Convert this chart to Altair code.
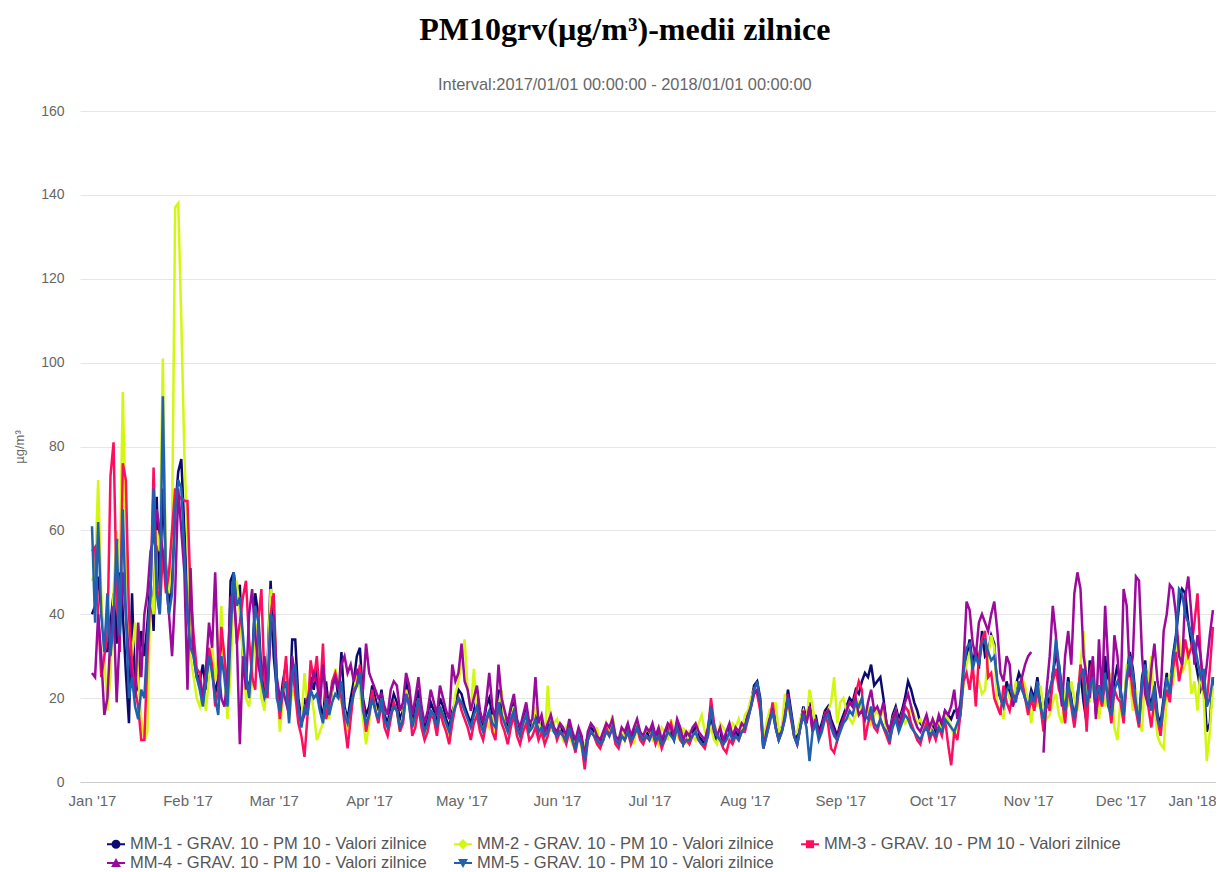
import altair as alt
import pandas as pd

series_names = [
    "MM-1 - GRAV. 10 - PM 10 - Valori zilnice",
    "MM-2 - GRAV. 10 - PM 10 - Valori zilnice",
    "MM-3 - GRAV. 10 - PM 10 - Valori zilnice",
    "MM-4 - GRAV. 10 - PM 10 - Valori zilnice",
    "MM-5 - GRAV. 10 - PM 10 - Valori zilnice",
]
series_colors = ["#0b0b6f", "#d4f70f", "#ff0d5f", "#9b0a9b", "#2160b0"]

mm1 = (
    [40,42,49,41,33,31,38,45,33,58,40,26,14,45,21,23,36,30,38,48,36,68,46,70,52,41,48,65,74,77,60]
    + [45,34,31,26,24,28,22,30,27,21,25,35,28,22,48,50,44,47,30,25,22,28,45,40,26,21,28,48]
    + [30,22,18,24,28,16,34,34,20,15,20,18,25,22,27,19,15,24,17,22,26,20,31,18,15,20,24,30,32,20,16]
    + [18,23,20,17,22,16,14,18,21,19,15,17,24,20,14,18,22,16,13,15,19,17,14,20,18,15,13,17,19,22]
    + [21,18,16,14,17,20,15,13,18,20,16,14,22,17,15,13,16,19,14,12,15,17,13,14,16,12,14,11,13,15,12]
    + [11,13,12,10,14,11,9,12,10,8,11,13,12,10,9,11,13,12,14,10,9,12,11,13,10,12,14,11,10,12]
    + [11,13,10,12,9,11,13,12,10,14,12,9,11,10,12,13,11,10,9,12,15,11,10,12,9,11,13,10,12,11,13]
    + [14,16,19,23,24,20,9,12,15,18,14,11,13,16,22,17,12,10,14,18,15,19,13,16,12,14,17,18,15,13,11]
    + [14,16,18,20,19,22,21,24,26,25,28,23,24,25,20,14,12,16,18,15,17,20,24,22,19,17,14,13,15,12]
    + [14,12,15,13,17,16,15,17,17,18,25,30,34,28,32,27,36,30,31,35,33,22,20,18,24,21,19,23,26,24,20]
    + [18,22,20,25,19,16,21,18,26,30,28,22,18,25,20,15,21,26,19,14,29,24,17,23,20,30,22,16,24,28]
    + [22,17,26,31,27,20,15,25,29,21,18,24,16,14,20,26,22,30,35,42,46,45,38,33,30,26,22,24,12,14,25]
)
mm2 = (
    [48,50,72,45,30,17,25,45,60,50,93,60,35,30,38,25,15,10,12,46,40,60,55,101,50,45,60,137,138,110,78]
    + [58,30,25,20,18,22,17,25,33,24,30,42,25,15,26,46,48,40,30,20,18,24,38,35,20,17,26,46]
    + [44,24,12,20,27,15,22,20,17,14,26,18,22,17,10,12,14,20,15,23,27,24,19,17,12,16,21,26,22,15,9]
    + [14,21,18,15,20,14,13,16,18,17,12,16,22,19,13,15,20,14,11,13,17,16,12,18,16,13,11,15,21,24]
    + [28,34,22,17,27,16,14,12,15,13,16,11,18,22,14,12,15,18,13,11,14,16,12,13,18,15,11,10,23,12,14]
    + [15,12,10,13,11,9,10,11,8,9,10,12,11,13,8,10,14,12,16,11,9,13,10,12,11,9,14,12,10,13]
    + [12,10,11,9,13,12,10,15,12,11,10,13,9,12,11,10,14,16,12,11,13,10,9,14,13,12,11,14,13,15,12]
    + [16,17,20,22,21,18,10,14,17,16,19,12,13,21,18,15,11,12,15,17,14,22,18,13,11,12,16,17,19,25,14]
    + [19,20,17,15,14,16,19,17,15,18,14,16,17,15,18,12,11,15,17,13,16,14,15,18,16,14,15,13,16,12]
    + [15,13,14,12,16,15,13,11,14,16,23,28,31,26,25,24,21,22,30,35,32,18,17,15,22,20,18,24,22,25,23]
    + [19,14,20,18,23,17,15,16,19,21,16,14,22,18,24,20,17,28,36,22,19,27,24,15,21,18,24,26,13,10]
    + [20,16,28,25,17,22,14,12,27,24,30,18,11,9,8,20,26,23,30,35,26,28,32,21,24,17,27,20,5,12,23]
)
mm3 = (
    [55,56,40,25,30,35,73,81,45,31,76,72,40,28,22,18,10,10,30,45,75,48,40,55,45,50,60,70,67,68,67]
    + [67,45,35,27,26,20,24,32,28,18,22,37,30,20,42,47,33,38,44,48,34,25,22,38,46,24,20,40]
    + [45,24,15,22,30,18,28,21,14,11,6,16,29,24,30,20,33,15,18,24,26,23,20,14,8,15,22,23,28,19,12]
    + [16,22,17,14,19,13,11,15,19,17,12,14,21,19,11,13,18,13,10,12,16,15,11,17,14,12,9,14,18,20]
    + [17,15,13,10,14,16,12,10,14,17,12,10,19,14,12,9,13,16,11,9,12,14,10,11,13,10,12,9,11,14,13]
    + [10,12,11,9,12,10,7,11,9,3,10,12,11,9,8,10,13,11,13,9,8,11,10,12,9,11,13,10,9,11]
    + [10,12,9,11,8,10,12,14,11,13,10,9,10,9,11,12,10,9,8,11,20,14,11,10,8,7,10,9,11,10,12]
    + [12,15,18,22,21,17,8,11,14,19,13,10,12,16,20,15,11,9,13,17,14,18,12,15,11,13,16,14,8,7,10]
    + [13,15,17,19,18,21,24,22,10,14,16,13,12,15,13,11,9,14,16,13,15,18,17,14,12,10,9,12,14,10]
    + [12,10,13,11,15,9,4,12,10,16,24,26,22,28,18,30,34,36,25,26,20,18,16,23,19,17,21,20,22,24,20]
    + [16,20,17,22,18,12,19,17,24,27,22,20,14,23,18,13,19,28,24,12,26,29,16,21,18,24,20,14,22,20]
    + [19,14,24,28,21,17,13,23,26,18,13,20,15,11,18,22,19,27,31,24,28,34,30,32,38,45,30,22,19,27,37]
)
mm4 = (
    [26,25,40,30,16,20,35,42,19,35,50,40,30,25,20,38,25,40,45,55,58,65,60,55,48,40,30,45,70,60,50]
    + [22,51,30,25,24,20,27,38,32,50,28,20,18,25,44,45,35,9,30,22,40,46,35,28,24,30,22,35]
    + [40,25,20,22,19,16,30,25,18,14,16,20,22,26,24,18,28,20,19,23,25,22,28,30,26,28,24,27,24,22,33]
    + [26,24,22,20,21,18,16,22,24,23,17,19,26,23,16,20,25,18,14,17,22,19,16,23,20,17,15,28,24,26]
    + [33,24,22,17,20,23,17,14,19,26,18,15,28,20,17,14,18,21,15,13,16,19,14,15,25,14,16,12,14,16,13]
    + [12,14,13,11,15,12,10,13,11,6,12,14,13,11,10,12,14,13,15,11,10,13,12,14,11,13,15,12,11,13]
    + [12,14,11,13,10,12,14,13,11,15,13,10,12,11,13,14,12,11,10,13,18,12,11,13,10,12,14,11,13,12,14]
    + [13,16,18,21,22,19,8,12,15,17,13,10,12,15,21,16,11,9,13,17,14,18,12,15,11,13,16,17,14,12,10]
    + [13,15,17,19,18,20,16,17,15,19,22,17,18,16,19,14,12,15,17,13,16,19,21,18,15,13,12,14,16,13]
    + [15,13,16,14,17,16,18,22,15,19,28,43,41,33,30,38,40,38,36,40,43,36,26,24,30,28,18,20,22,25,28]
    + [30,31,None,None,None,7,22,30,42,35,24,18,30,36,28,45,50,46,30,25,20,30,15,34,20,42,28,18,35,30]
    + [20,46,42,25,30,49,48,30,21,18,27,33,24,20,36,40,47,46,40,30,28,44,49,40,28,35,30,22,28,35,41]
)
mm5 = (
    [61,38,62,40,31,45,30,38,58,35,65,40,20,25,18,15,22,20,35,45,70,45,40,92,48,40,45,65,72,70,55]
    + [40,32,30,25,22,18,24,30,26,20,16,30,25,18,35,50,42,44,35,26,20,30,42,38,24,20,22,40]
    + [38,20,17,22,24,14,26,28,18,13,18,16,22,20,21,17,14,20,16,19,21,20,24,16,14,18,21,23,26,17,14]
    + [16,20,17,15,20,15,13,16,18,17,13,15,21,18,13,16,20,15,12,14,17,16,13,18,16,14,12,16,18,20]
    + [19,17,15,13,16,18,14,12,15,17,14,13,19,16,14,12,15,17,13,11,14,16,12,13,15,12,13,11,12,14,12]
    + [11,12,11,10,13,10,8,11,9,5,10,12,11,10,9,10,12,11,13,10,9,11,10,12,10,11,13,11,10,11]
    + [10,12,10,11,9,10,12,11,10,13,11,9,10,10,11,12,10,9,9,11,18,13,11,10,9,10,12,10,11,10,12]
    + [13,15,18,22,24,19,8,11,14,17,13,10,12,15,20,16,11,9,13,16,13,5,12,14,10,12,15,16,13,11,10]
    + [12,14,15,17,16,19,18,20,16,15,18,14,13,15,13,12,10,13,15,12,14,16,15,13,12,11,10,12,13,11]
    + [12,11,13,12,15,14,13,12,14,16,26,32,33,27,30,28,33,34,31,29,30,24,20,18,22,23,21,19,24,22,20]
    + [18,21,19,24,18,15,20,22,25,34,28,21,17,24,19,15,20,25,27,18,22,25,20,23,19,26,18,16,22,24]
    + [22,16,25,30,26,19,14,24,28,20,17,23,15,13,19,25,21,29,34,46,45,40,38,35,33,29,25,27,18,20,25]
)

month_ticks = ["2017-01-01", "2017-02-01", "2017-03-01", "2017-04-01", "2017-05-01",
               "2017-06-01", "2017-07-01", "2017-08-01", "2017-09-01", "2017-10-01",
               "2017-11-01", "2017-12-01", "2018-01-01"]
y_ticks = [0, 20, 40, 60, 80, 100, 120, 140, 160]

# legend symbols: short line with a marker (circle, diamond, square, triangle-up, triangle-down)
line_part = "M-1,-0.12H1V0.12H-1Z"
legend_paths = [
    line_part + "M-0.5,0A0.5,0.5,0,1,1,0.5,0A0.5,0.5,0,1,1,-0.5,0Z",
    line_part + "M0,-0.58L0.58,0L0,0.58L-0.58,0Z",
    line_part + "M-0.45,-0.45H0.45V0.45H-0.45Z",
    line_part + "M0,-0.55L0.55,0.45H-0.55Z",
    line_part + "M0,0.55L-0.55,-0.45H0.55Z",
]

all_series = [mm1, mm2, mm3, mm4, mm5]
for s in all_series:
    assert len(s) == 365, len(s)

dates = pd.date_range("2017-01-01", periods=365, freq="D")
rows = []
for name, vals in zip(series_names, all_series):
    seg = 0
    for d, v in zip(dates, vals):
        if v is None:
            seg += 1
            continue
        rows.append({"date": d.strftime("%Y-%m-%d"), "value": v,
                     "series": name, "key": f"{name}|{seg}"})
df = pd.DataFrame(rows)

tick_ms = [int(pd.Timestamp(t, tz="UTC").timestamp() * 1000) for t in month_ticks]
last_tick = tick_ms[-1]

x_enc = alt.X(
    "date:T",
    scale=alt.Scale(type="utc", domain=["2016-12-28T02:24:00Z", "2018-01-01T00:00:00Z"]),
    axis=alt.Axis(
        values=tick_ms, format="%b '%y", title=None, grid=False,
        ticks=False, domainColor="#cccccc", labelPadding=11, labelFontSize=15,
        labelColor="#666666", labelFont="Liberation Sans", labelOverlap=False,
        labelFlush=False,
        labelAlign=alt.condition(f"datum.value >= {last_tick}", alt.value("right"), alt.value("center")),
    ),
)
y_enc = alt.Y(
    "value:Q",
    scale=alt.Scale(domain=[0, 160], nice=False),
    axis=alt.Axis(
        values=y_ticks, title="µg/m³", titleFont="Liberation Sans", titleFontSize=13,
        titleFontWeight="normal", titleColor="#666666", titlePadding=14,
        labelFont="Liberation Sans", labelFontSize=14, labelColor="#666666",
        labelPadding=16, domain=False, ticks=False, gridColor="#e6e6e6", gridWidth=1,
    ),
)
color_scale = alt.Scale(domain=series_names, range=series_colors)
legend_def = alt.Legend(
    title=None, orient="none", legendX=27, legendY=724, columns=3, columnPadding=27,
    direction="horizontal", rowPadding=1, labelFont="Liberation Sans", labelFontSize=16.5,
    labelColor="#555555", labelLimit=0, labelOffset=5, symbolSize=324,
    symbolStrokeWidth=0, symbolOpacity=1,
)

base = alt.Chart(df)
# invisible points carry the legend (line + marker symbols); drawn first, under the lines
points = base.mark_point(filled=True, opacity=0).encode(
    x=x_enc, y=y_enc,
    color=alt.Color("series:N", scale=color_scale, legend=legend_def),
    shape=alt.Shape("series:N", scale=alt.Scale(domain=series_names, range=legend_paths),
                    legend=legend_def),
)
lines = base.mark_line(strokeWidth=2.5, clip=True).encode(
    x=x_enc, y=y_enc,
    color=alt.Color("series:N", scale=color_scale, legend=legend_def),
    detail="key:N",
)

chart = (
    alt.layer(points, lines)
    .properties(
        width=1136, height=671,
        padding={"left": 5, "top": 5, "right": 0, "bottom": 0},
        title=alt.TitleParams(
            text="PM10grv(µg/m³)-medii zilnice",
            subtitle="Interval:2017/01/01 00:00:00 - 2018/01/01 00:00:00",
            font="Liberation Serif", fontSize=32, fontWeight="bold", color="#000000",
            subtitleFont="Liberation Sans", subtitleFontSize=16.4, subtitleColor="#666666",
            subtitlePadding=30, anchor="middle", frame="bounds", offset=10, dx=10,
        ),
    )
    .configure_view(stroke=None)
)

chart.save("out.html", embed_options={"renderer": "svg", "actions": False})
